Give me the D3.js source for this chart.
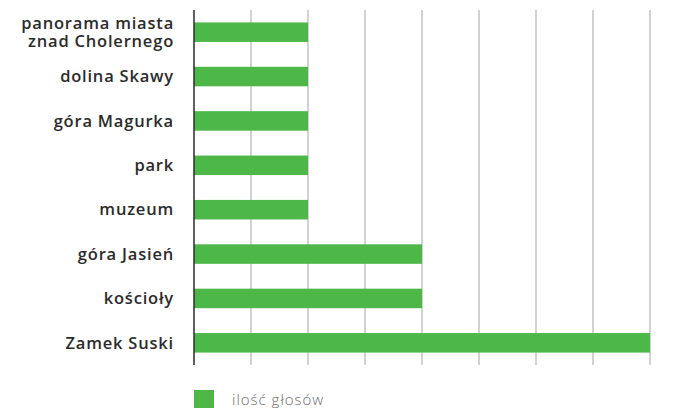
<!DOCTYPE html>
<html>
<head>
<meta charset="utf-8">
<script src="https://cdn.jsdelivr.net/npm/d3@7"></script>
<style>
  body { margin: 0; background: #fff; }
  text { font-family: "Open Sans", sans-serif; }
</style>
</head>
<body>
<div id="chart"></div>
<script>
// Dane
// ====
var categories = ["panorama miasta\nznad Cholernego", "dolina Skawy", "góra Magurka", "park",
  "muzeum", "góra Jasień", "kościoły", "Zamek Suski"];
var votes = [2, 2, 2, 2, 2, 4, 4, 8];
var xTicks = [0, 1, 2, 3, 4, 5, 6, 7, 8];
var seriesName = "ilość głosów";

// Dimensiones
// ===========
var W = 693, H = 408;
var margin = { top: 10, left: 194 },
  width = 456,
  height = 355;

var svg = d3.select("#chart")
  .append("svg")
  .attr("width", W)
  .attr("height", H);

var g = svg.append("g")
  .attr("transform", "translate(" + margin.left + "," + margin.top + ")");

var x = d3.scaleLinear()
  .domain([0, 8])
  .range([0, width]);

var y = d3.scaleBand()
  .domain(categories)
  .range([0, height])
  .paddingInner(0.56)
  .paddingOuter(0.28);

// Lineas de la rejilla
g.append("g")
  .selectAll("line")
  .data(xTicks.slice(1))
  .join("line")
  .attr("x1", function(d) { return x(d); })
  .attr("x2", function(d) { return x(d); })
  .attr("y1", 0)
  .attr("y2", height)
  .attr("stroke", "#c3c3c7")
  .attr("stroke-width", 1.5);

// Barras
g.append("g")
  .selectAll("rect")
  .data(categories)
  .join("rect")
  .attr("x", x(0))
  .attr("y", function(d) { return y(d); })
  .attr("width", function(d, i) { return x(votes[i]) - x(0); })
  .attr("height", y.bandwidth())
  .attr("fill", "#4db848");

// Eje Y
g.append("line")
  .attr("x1", x(0)).attr("x2", x(0))
  .attr("y1", 0).attr("y2", height)
  .attr("stroke", "#2b2b2b")
  .attr("stroke-width", 1.5);

var labels = g.append("g")
  .selectAll("text")
  .data(categories)
  .join("text")
  .attr("text-anchor", "end")
  .attr("x", -20)
  .attr("y", function(d) { return y(d) + y.bandwidth() / 2; })
  .attr("fill", "#2b2b2b")
  .attr("font-size", "16.5px")
  .attr("letter-spacing", "0.8px")
  .attr("font-weight", 600);

labels.each(function(d) {
  var lines = d.split("\n");
  var t = d3.select(this);
  lines.forEach(function(l, i) {
    t.append("tspan")
      .attr("x", -20)
      .attr("dy", i === 0 ? ((-(lines.length - 1) * 1.12 / 2) + 0.35) + "em" : "1.12em")
      .text(l);
  });
});

// Leyenda
var legend = svg.append("g")
  .attr("transform", "translate(" + margin.left + ",390)");

legend.append("rect")
  .attr("width", 20)
  .attr("height", 18)
  .attr("fill", "#4db848");

legend.append("text")
  .attr("x", 38)
  .attr("y", 15)
  .attr("fill", "#6a6a6a")
  .attr("font-size", "15px")
  .attr("letter-spacing", "1px")
  .attr("font-weight", 300)
  .text(seriesName);
</script>
</body>
</html>
